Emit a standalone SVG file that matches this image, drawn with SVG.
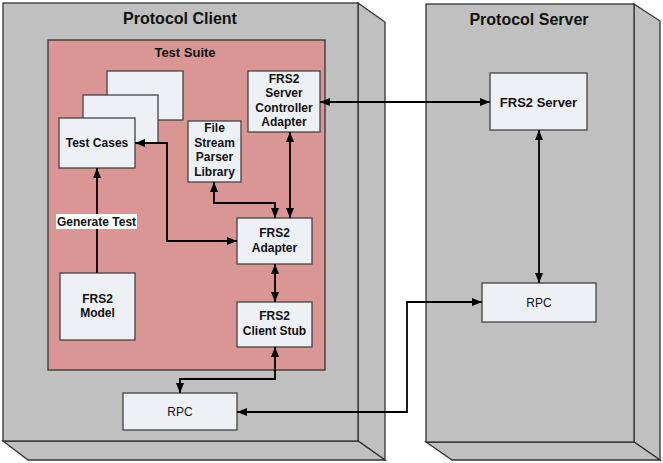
<svg xmlns="http://www.w3.org/2000/svg" width="663" height="463" viewBox="0 0 663 463">
<style>
.cont{fill:#C0C0C0;stroke:#333;stroke-width:1.3;stroke-linejoin:miter}
.suite{fill:#D99694;stroke:#333;stroke-width:1.3}
.node{fill:#EDF0F5;stroke:#444;stroke-width:1.3}
.t{font-family:"Liberation Sans",Arial,sans-serif;font-size:12px;font-weight:bold;fill:#111;text-anchor:middle}
.tn{font-weight:normal}
.title{font-family:"Liberation Sans",Arial,sans-serif;font-size:16px;font-weight:bold;fill:#111;text-anchor:middle}
.conn path{fill:none;stroke:#000;stroke-width:1.8}
.both{marker-start:url(#ah);marker-end:url(#ah)}
.one{marker-end:url(#ah)}
</style>
<defs>
<marker id="ah" viewBox="0 0 10 8" refX="10" refY="4" markerWidth="10" markerHeight="8" markerUnits="userSpaceOnUse" orient="auto-start-reverse">
<path d="M0,0 L10,4 L0,8 z" fill="#000"/>
</marker>
</defs>
<rect width="663" height="463" fill="#fff"/>

<g id="protocol-client">
<polygon class="cont" points="358,3 385,22 385,460 358,441"/>
<polygon class="cont" points="3,441 358,441 385,460 28,460"/>
<rect class="cont" x="3" y="3" width="355" height="438"/>
<text class="title" x="180" y="24">Protocol Client</text>
</g>

<g id="protocol-server">
<polygon class="cont" points="634,4 660,21 660,460 634,442"/>
<polygon class="cont" points="426,442 634,442 660,460 452,460"/>
<rect class="cont" x="426" y="4" width="208" height="438"/>
<text class="title" x="529" y="25">Protocol Server</text>
</g>

<g id="test-suite">
<rect class="suite" x="48" y="40" width="277" height="330"/>
<text class="t" x="185" y="57" style="font-size:13px">Test Suite</text>
</g>

<g id="test-cases">
<rect class="node" x="107" y="71" width="76" height="49"/>
<rect class="node" x="83" y="95" width="75" height="48"/>
<rect class="node" x="59" y="118" width="76" height="50"/>
<text class="t" x="97" y="147">Test Cases</text>
</g>

<g id="file-stream-parser-library">
<rect class="node" x="188" y="121" width="53" height="61"/>
<text class="t" x="214.5" y="132">File</text>
<text class="t" x="214.5" y="147">Stream</text>
<text class="t" x="214.5" y="161">Parser</text>
<text class="t" x="214.5" y="176">Library</text>
</g>

<g id="frs2-server-controller-adapter">
<rect class="node" x="248" y="71" width="72" height="61"/>
<text class="t" x="284" y="83">FRS2</text>
<text class="t" x="284" y="97">Server</text>
<text class="t" x="284" y="112">Controller</text>
<text class="t" x="284" y="126">Adapter</text>
</g>

<g id="frs2-adapter">
<rect class="node" x="237" y="218" width="75" height="46"/>
<text class="t" x="274.5" y="237">FRS2</text>
<text class="t" x="274.5" y="252">Adapter</text>
</g>

<g id="frs2-client-stub">
<rect class="node" x="237" y="302" width="75" height="45"/>
<text class="t" x="274.5" y="320">FRS2</text>
<text class="t" x="274.5" y="335">Client Stub</text>
</g>

<g id="frs2-model">
<rect class="node" x="60" y="273" width="75" height="67"/>
<text class="t" x="97.5" y="303">FRS2</text>
<text class="t" x="97.5" y="317">Model</text>
</g>

<g id="rpc-client">
<rect class="node" x="123" y="393" width="114" height="37"/>
<text class="t tn" x="180" y="415.5">RPC</text>
</g>

<g id="frs2-server">
<rect class="node" x="490" y="73" width="97" height="57"/>
<text class="t" x="538.5" y="106.5" style="font-size:13px">FRS2 Server</text>
</g>

<g id="rpc-server">
<rect class="node" x="482" y="283" width="114" height="39"/>
<text class="t tn" x="539" y="306.5">RPC</text>
</g>

<g id="connectors" class="conn">
<path class="one" d="M97,273 V168"/>
<path class="both" d="M237,241 H167 V143 H135"/>
<path class="both" d="M214,182 V203 H275 V218"/>
<path class="both" d="M290,132 V218"/>
<path class="both" d="M275,264 V302"/>
<path class="both" d="M275,347 V379 H180 V393"/>
<path class="both" d="M320,102 H490"/>
<path class="both" d="M539,130 V283"/>
<path class="both" d="M237,412 H407 V302 H482"/>
</g>

<g id="label-generate-test">
<rect x="56" y="214" width="81" height="15" fill="#fff"/>
<text class="t" x="96.5" y="225.5">Generate Test</text>
</g>
</svg>
